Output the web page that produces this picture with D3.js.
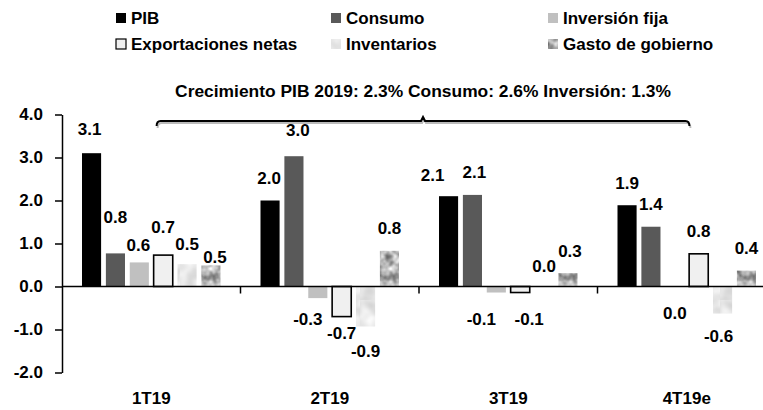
<!DOCTYPE html>
<html><head><meta charset="utf-8">
<script src="https://cdn.jsdelivr.net/npm/d3@7"></script>
<style>
body{margin:0;background:#fff}
svg{display:block}
text{font-family:"Liberation Sans",Arial,sans-serif;font-weight:bold;fill:#000}
</style>
</head><body>
<svg id="chart" width="763" height="410"></svg>
<script>
// ---- data ----
const categories = ["1T19", "2T19", "3T19", "4T19e"];
const seriesNames = ["PIB", "Consumo", "Inversión fija", "Exportaciones netas", "Inventarios", "Gasto de gobierno"];
const pib = [3.1, 2.0, 2.1, 1.89];
const consumo = [0.77, 3.03, 2.13, 1.39];
const inversionFija = [0.56, -0.27, -0.14, 0.0];
const exportacionesNetas = [0.73, -0.70, -0.14, 0.76];
const inventarios = [0.52, -0.93, 0.0, -0.63];
const gastoGobierno = [0.49, 0.83, 0.31, 0.37];
const yTicks = [-2, -1, 0, 1, 2, 3, 4];
const annotation = "Crecimiento PIB 2019: 2.3% Consumo: 2.6% Inversión: 1.3%";

// ---- layout (label nudges, per series per category: [dx, dy]) ----
const labelNudge = [
  [[-2, -24], [-1, -22], [-16, -21], [0, -22]],
  [[0, -36], [4, -26], [2, -22], [0, -22]],
  [[-1, -17], [-10, 21], [-15, 27], [0, 27]],
  [[0, -28], [0, 17], [9, 27], [0, -22]],
  [[0, -20], [0, 25], [0, -20], [-4, 23]],
  [[4, -8], [0, -22], [2, -22], [0, -22]]
];

const seriesValues = [pib, consumo, inversionFija, exportacionesNetas, inventarios, gastoGobierno];
const fills = ["#000000", "#595959", "#c0c0c0", "#f0f0f0", "url(#texInv)", "url(#texGasto)"];

const svg = d3.select("#chart");
const defs = svg.append("defs");

// textures
function noisePattern(id, freq, seed, slope, intercept) {
  const f = defs.append("filter").attr("id", id + "F")
    .attr("filterUnits", "userSpaceOnUse").attr("x", 0).attr("y", 0).attr("width", 60).attr("height", 60)
    .attr("color-interpolation-filters", "sRGB");
  f.append("feTurbulence").attr("type", "fractalNoise").attr("baseFrequency", freq).attr("numOctaves", 2).attr("seed", seed).attr("result", "n");
  f.append("feColorMatrix").attr("in", "n").attr("type", "matrix")
    .attr("values", `${slope} 0 0 0 ${intercept}  ${slope} 0 0 0 ${intercept}  ${slope} 0 0 0 ${intercept}  0 0 0 0 1`);
  const p = defs.append("pattern").attr("id", id).attr("patternUnits", "userSpaceOnUse").attr("width", 60).attr("height", 60);
  p.append("rect").attr("width", 60).attr("height", 60).attr("filter", `url(#${id}F)`);
}
noisePattern("texGasto", 0.12, 7, 1.1, 0.15);
noisePattern("texInv", 0.07, 3, 0.25, 0.77);

const x0 = d3.scaleBand().domain(categories).range([62, 776]);
const x1 = d3.scaleBand().domain(seriesNames).range([20, x0.bandwidth() - 20]).paddingInner(0.2);
const y = d3.scaleLinear().domain([-2, 4]).range([372.5, 114.5]);

// bars
seriesNames.forEach((s, si) => {
  const g = svg.append("g");
  g.selectAll("rect").data(seriesValues[si]).join("rect")
    .attr("x", (d, ci) => x0(categories[ci]) + x1(s))
    .attr("width", x1.bandwidth())
    .attr("y", d => y(Math.max(0, d)))
    .attr("height", d => Math.abs(y(d) - y(0)))
    .attr("fill", fills[si])
    .attr("stroke", si === 3 ? "#000" : "none")
    .attr("stroke-width", 1.6);
});

// y axis
const yAxis = d3.axisLeft(y).tickValues(yTicks).tickFormat(d => d.toFixed(1)).tickSize(7).tickSizeOuter(0).tickPadding(12);
const gy = svg.append("g").attr("transform", "translate(62,0)").call(yAxis);
gy.select(".domain").attr("stroke", "#000").attr("stroke-width", 1.5);
gy.selectAll(".tick line").attr("stroke", "#000").attr("stroke-width", 1.5);
gy.selectAll("text").style("font-size", "17px");

// zero line and category separators
svg.append("line").attr("x1", 62).attr("x2", 763).attr("y1", y(0)).attr("y2", y(0)).attr("stroke", "#000").attr("stroke-width", 1.5);
svg.selectAll(".sep").data(categories.slice(1)).join("line")
  .attr("x1", d => x0(d)).attr("x2", d => x0(d)).attr("y1", y(0)).attr("y2", y(0) + 7)
  .attr("stroke", "#000").attr("stroke-width", 1.5);

// x labels
const xAxis = d3.axisBottom(x0).tickSize(0).tickPadding(19);
const gx = svg.append("g").attr("transform", `translate(0,${y(-2)})`).call(xAxis);
gx.select(".domain").remove();
gx.selectAll("text").style("font-size", "17px");

// value labels
seriesNames.forEach((s, si) => {
  svg.append("g").selectAll("text").data(seriesValues[si]).join("text")
    .attr("x", (d, ci) => x0(categories[ci]) + x1(s) + x1.bandwidth() / 2 + labelNudge[si][ci][0])
    .attr("y", (d, ci) => y(d) + labelNudge[si][ci][1])
    .attr("text-anchor", "middle")
    .attr("dominant-baseline", "central")
    .style("font-size", "17px")
    .text(d => d.toFixed(1));
});

// bracket annotation
const bL = x0("1T19") + x0.bandwidth() * 0.53;
const bR = x0("4T19e") + x0.bandwidth() * 0.515;
const bM = (bL + bR) / 2;
const bY = 121;
const bracket = `M${bL},${bY + 5} Q${bL},${bY} ${bL + 4},${bY} L${bM - 2},${bY} L${bM},${bY - 4} L${bM + 2},${bY} L${bR - 4},${bY} Q${bR},${bY} ${bR},${bY + 5}`;
svg.append("path").attr("d", bracket).attr("fill", "none").attr("stroke", "#bbb").attr("stroke-width", 2).attr("transform", "translate(1,2)");
svg.append("path").attr("d", bracket).attr("fill", "none").attr("stroke", "#000").attr("stroke-width", 2);
svg.append("text").attr("x", bM).attr("y", 97).attr("text-anchor", "middle").style("font-size", "17.4px").text(annotation);

// legend
const legendPos = [[116, 13], [331, 13], [548, 13], [116, 39], [331, 39], [548, 39]];
const lg = svg.append("g");
seriesNames.forEach((s, i) => {
  lg.append("rect").attr("x", legendPos[i][0]).attr("y", legendPos[i][1]).attr("width", 10).attr("height", 10)
    .attr("fill", fills[i]).attr("stroke", i === 3 ? "#000" : "none").attr("stroke-width", 1.2);
  lg.append("text").attr("x", legendPos[i][0] + 15).attr("y", legendPos[i][1] + 5)
    .attr("dominant-baseline", "central").style("font-size", "17px").text(s);
});
</script>
</body></html>
